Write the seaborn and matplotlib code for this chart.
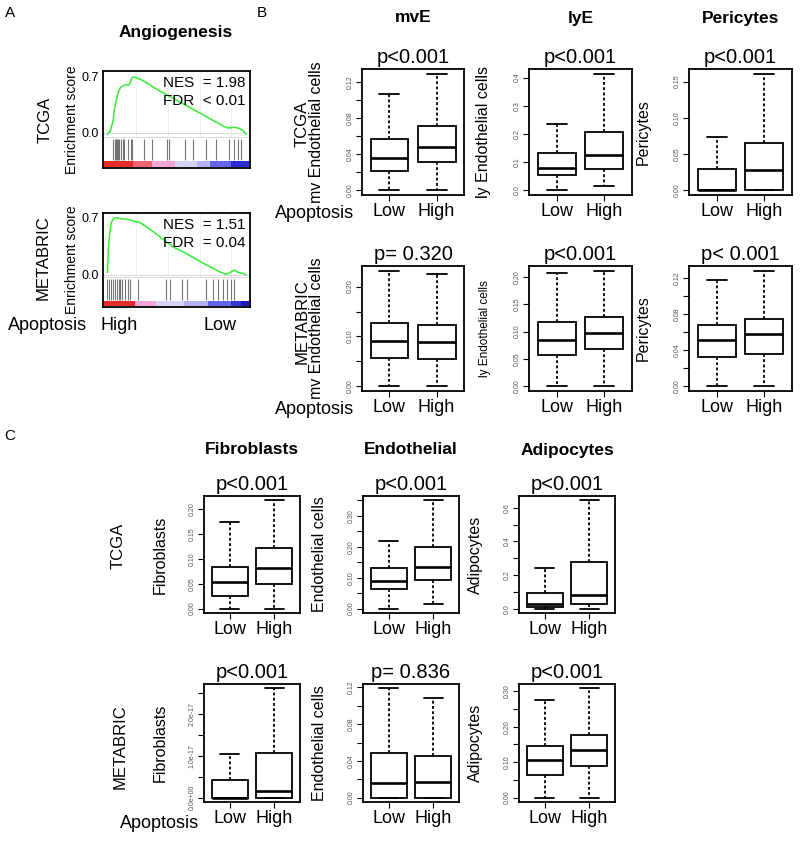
import numpy as np
import pandas as pd
import seaborn as sns
import matplotlib.pyplot as plt

W, H = 800, 841
groups = ["Low", "High"]

# ---- panel A: running enrichment score (rank fraction, ES) ----
tcga_rank = [0.02, 0.04, 0.06, 0.068, 0.08, 0.095, 0.105, 0.116, 0.13, 0.15, 0.17, 0.18, 0.19, 0.205,
             0.25, 0.30, 0.35, 0.40, 0.45, 0.50, 0.55, 0.60, 0.66, 0.72, 0.78, 0.83, 0.86, 0.90, 0.93, 0.96, 0.985]
tcga_es = [-0.02, 0.02, 0.15, 0.29, 0.40, 0.50, 0.55, 0.575, 0.59, 0.60, 0.60, 0.64, 0.69, 0.70,
           0.67, 0.62, 0.56, 0.51, 0.46, 0.41, 0.36, 0.31, 0.25, 0.19, 0.13, 0.08, 0.06, 0.07, 0.06, 0.03, -0.02]
tcga_hits = [0.06, 0.07, 0.077, 0.086, 0.093, 0.10, 0.116, 0.127, 0.138, 0.161, 0.184, 0.19,
             0.274, 0.33, 0.433, 0.45, 0.558, 0.614, 0.705, 0.773, 0.864, 0.898, 0.925, 0.945]
tcga_bar_edges = [0.0, 0.2, 0.33, 0.49, 0.64, 0.73, 0.88, 1.0]
tcga_bar_colors = ["#e62a2a", "#f06470", "#f2a6d6", "#d4d2f6", "#b4b2f2", "#6464e8", "#2a2ad2"]

meta_rank = [0.02, 0.027, 0.035, 0.048, 0.068, 0.09, 0.116, 0.15, 0.18, 0.25, 0.30, 0.37, 0.42, 0.48,
             0.55, 0.61, 0.68, 0.75, 0.80, 0.84, 0.86, 0.88, 0.90, 0.93, 0.96, 0.985]
meta_es = [0.03, 0.30, 0.50, 0.65, 0.70, 0.70, 0.69, 0.685, 0.675, 0.64, 0.58, 0.49, 0.42, 0.34,
           0.28, 0.22, 0.15, 0.085, 0.04, 0.01, 0.02, 0.04, 0.06, 0.03, 0.02, 0.0]
meta_hits = [0.015, 0.03, 0.045, 0.06, 0.07, 0.085, 0.10, 0.11, 0.125, 0.14, 0.16, 0.18,
             0.23, 0.43, 0.456, 0.535, 0.57, 0.705, 0.75, 0.785, 0.82, 0.85, 0.878, 0.898]
meta_bar_edges = [0.0, 0.21, 0.36, 0.55, 0.72, 0.88, 0.95, 1.0]
meta_bar_colors = ["#e62a2a", "#f2a6d6", "#d4d2f6", "#b4b2f2", "#6464e8", "#3434d6", "#1a1ac0"]

# ---- panels B and C: box summaries (lower whisker, Q1, median, Q3, upper whisker) ----
mve_tcga = {"Low": [0.0, 0.021, 0.036, 0.057, 0.107], "High": [0.0, 0.031, 0.048, 0.071, 0.129]}
lye_tcga = {"Low": [0.0, 0.053, 0.081, 0.133, 0.235], "High": [0.014, 0.074, 0.126, 0.207, 0.414]}
peri_tcga = {"Low": [0.0, 0.0, 0.0, 0.029, 0.073], "High": [0.0, 0.0, 0.0275, 0.065, 0.161]}
mve_meta = {"Low": [0.0, 0.056, 0.090, 0.128, 0.232], "High": [0.0, 0.055, 0.088, 0.124, 0.226]}
lye_meta = {"Low": [0.0, 0.057, 0.085, 0.118, 0.207], "High": [0.0, 0.068, 0.098, 0.127, 0.211]}
peri_meta = {"Low": [0.0, 0.033, 0.051, 0.0675, 0.118], "High": [0.0, 0.036, 0.058, 0.074, 0.128]}

fib_tcga = {"Low": [0.0, 0.026, 0.054, 0.084, 0.174], "High": [0.0, 0.05, 0.082, 0.122, 0.218]}
endo_tcga = {"Low": [0.0, 0.064, 0.088, 0.13, 0.218], "High": [0.015, 0.092, 0.136, 0.20, 0.35]}
adipo_tcga = {"Low": [0.0, 0.012, 0.03, 0.095, 0.24], "High": [0.0, 0.03, 0.08, 0.275, 0.645]}
fib_meta = {"Low": [0.0, 0.0, 0.0, 0.43e-17, 1.05e-17], "High": [0.0, 0.0, 0.17e-17, 1.07e-17, 2.62e-17]}
endo_meta = {"Low": [0.0, 0.0, 0.016, 0.0486, 0.119], "High": [0.0, 0.0, 0.0173, 0.0454, 0.109]}
adipo_meta = {"Low": [0.0, 0.064, 0.106, 0.146, 0.274], "High": [0.0, 0.089, 0.134, 0.176, 0.308]}

sns.set_style("white")
plt.rcParams["font.family"] = ["Liberation Sans", "DejaVu Sans"]
plt.rcParams["text.color"] = "black"
plt.rcParams["axes.labelcolor"] = "black"
plt.rcParams["xtick.color"] = "black"
plt.rcParams["ytick.color"] = "black"

fig = plt.figure(figsize=(W / 100, H / 100), dpi=100)


def add_ax(l, t, r, b):
    return fig.add_axes([l / W, 1 - b / H, (r - l) / W, (b - t) / H])


def put(x, y, s, **kw):
    kw.setdefault("ha", "center")
    kw.setdefault("va", "center")
    fig.text(x / W, 1 - y / H, s, **kw)


def frame(ax):
    for sp in ax.spines.values():
        sp.set_visible(True)
        sp.set_color("black")
        sp.set_linewidth(1.3)


def draw_gsea(ax, rank, es, hits, edges, colors, ylim, rug, bar, nes, fdr):
    sep = rug[1] + 0.02
    ax.vlines([0.22, 0.44, 0.66, 0.88], sep, ylim[1], color="#ececec", lw=0.6, zorder=0)
    ax.axhline(0, color="#d8d8d8", lw=0.7, zorder=0)
    ax.axhline(sep, color="#d8d8d8", lw=0.7, zorder=0)
    sns.lineplot(x=rank, y=es, ax=ax, color="#33ee33", linewidth=1.1, sort=False)
    ax.vlines(hits, rug[0], rug[1], color="#555555", linewidth=0.8, alpha=0.8)
    ax.barh(y=(bar[0] + bar[1]) / 2, width=np.diff(edges), left=edges[:-1],
            height=bar[1] - bar[0], color=colors, linewidth=0)
    ax.set_xlim(-0.01, 1.01)
    ax.set_ylim(*ylim)
    ax.set_xticks([])
    ax.set_yticks([0.0, 0.7])
    ax.set_yticklabels(["0.0", "0.7"], fontsize=9)
    ax.tick_params(axis="y", length=2, pad=1)
    ax.set_xlabel("")
    ax.set_ylabel("Enrichment score", fontsize=10, labelpad=2)
    frame(ax)
    ax.text(0.97, 0.95, nes, transform=ax.transAxes, ha="right", va="top", fontsize=11)
    ax.text(0.97, 0.76, fdr, transform=ax.transAxes, ha="right", va="top", fontsize=11)


def draw_box(ax, data, step, every, fmt, ylabel, ysize, pval, ylab_off):
    values = data["Low"] + data["High"]
    df = pd.DataFrame({"Apoptosis": np.repeat(groups, 5), "value": values})
    sns.boxplot(data=df, x="Apoptosis", y="value", order=groups, ax=ax, whis=np.inf, width=0.8,
                color="white", linecolor="black", linewidth=1.3, saturation=1,
                whiskerprops=dict(linestyle=(0, (1.6, 1.3))), medianprops=dict(linewidth=1.9),
                capwidths=0.42)
    lo, hi = min(values), max(values)
    pad = 0.04 * (hi - lo)
    ax.set_ylim(lo - pad, hi + pad)
    ax.set_xlim(-0.58, 1.58)
    ticks = np.arange(0, np.floor((hi + pad) / step + 1e-9) + 1) * step
    ax.set_yticks(ticks)
    ax.set_yticklabels([fmt.format(t) if i % every == 0 else "" for i, t in enumerate(ticks)],
                       rotation=90, va="center", fontsize=5, color="#555555")
    ax.tick_params(axis="y", left=True, length=4, width=0.8, pad=2)
    ax.tick_params(axis="x", bottom=True, length=4, width=0.8, pad=2, labelsize=13)
    ax.set_xlabel("")
    ax.set_ylabel(ylabel, fontsize=ysize)
    ax.yaxis.set_label_coords(-ylab_off / (ax.bbox.width), 0.5)
    frame(ax)
    ax.set_title(pval, fontsize=14.5, pad=4)


# ---------------- panel A ----------------
put(10, 13, "A", fontsize=11)
put(176, 32, "Angiogenesis", fontsize=12.5, fontweight="bold")
ax = add_ax(103, 71, 250, 168)
draw_gsea(ax, tcga_rank, tcga_es, tcga_hits, tcga_bar_edges, tcga_bar_colors,
          (-0.44, 0.775), (-0.34, -0.075), (-0.425, -0.35), "NES  = 1.98", "FDR  < 0.01")
ax = add_ax(103, 213, 250, 307)
draw_gsea(ax, meta_rank, meta_es, meta_hits, meta_bar_edges, meta_bar_colors,
          (-0.393, 0.761), (-0.307, -0.049), (-0.38, -0.32), "NES  = 1.51", "FDR  = 0.04")
put(45, 120, "TCGA", fontsize=12, rotation=90)
put(43, 258, "METABRIC", fontsize=12, rotation=90)
put(48, 325, "Apoptosis", fontsize=13)
put(119, 325, "High", fontsize=13)
put(220, 325, "Low", fontsize=13)

# ---------------- panel B ----------------
put(262, 13, "B", fontsize=11)
b_cols = [(362, 464), (529, 632), (689, 792)]
b_rows = [(69, 195), (266, 391)]
b_titles = ["mvE", "lyE", "Pericytes"]
b_panels = [
    [(mve_tcga, 0.02, 2, "{:.2f}", "mv Endothelial cells", 11.5, "p<0.001"),
     (lye_tcga, 0.1, 1, "{:.1f}", "ly Endothelial cells", 11.5, "p<0.001"),
     (peri_tcga, 0.05, 1, "{:.2f}", "Pericytes", 11.5, "p<0.001")],
    [(mve_meta, 0.05, 2, "{:.2f}", "mv Endothelial cells", 11.5, "p= 0.320"),
     (lye_meta, 0.05, 1, "{:.2f}", "ly Endothelial cells", 8.5, "p<0.001"),
     (peri_meta, 0.02, 2, "{:.2f}", "Pericytes", 11.5, "p< 0.001")],
]
for r, (t, b) in enumerate(b_rows):
    for c, (l, rr) in enumerate(b_cols):
        ax = add_ax(l, t, rr, b)
        draw_box(ax, *b_panels[r][c], ylab_off=38)
    put(315, b + 18, "Apoptosis", fontsize=13)
for c, (l, rr) in enumerate(b_cols):
    put((l + rr) / 2, 18, b_titles[c], fontsize=12.5, fontweight="bold")
put(302, 124, "TCGA", fontsize=12, rotation=90)
put(302, 322, "METABRIC", fontsize=12, rotation=90)

# ---------------- panel C ----------------
put(10, 436, "C", fontsize=11)
c_cols = [(204, 300), (363, 459), (519, 615)]
c_rows = [(496, 613), (684, 802)]
c_titles = ["Fibroblasts", "Endothelial", "Adipocytes"]
c_panels = [
    [(fib_tcga, 0.05, 1, "{:.2f}", "Fibroblasts", 11.5, "p<0.001"),
     (endo_tcga, 0.05, 2, "{:.2f}", "Endothelial cells", 11.5, "p<0.001"),
     (adipo_tcga, 0.1, 2, "{:.1f}", "Adipocytes", 11.5, "p<0.001")],
    [(fib_meta, 0.5e-17, 2, "{:.1e}", "Fibroblasts", 11.5, "p<0.001"),
     (endo_meta, 0.02, 2, "{:.2f}", "Endothelial cells", 11.5, "p= 0.836"),
     (adipo_meta, 0.05, 2, "{:.2f}", "Adipocytes", 11.5, "p<0.001")],
]
for r, (t, b) in enumerate(c_rows):
    for c, (l, rr) in enumerate(c_cols):
        ax = add_ax(l, t, rr, b)
        draw_box(ax, *c_panels[r][c], ylab_off=36)
for c, (l, rr) in enumerate(c_cols):
    put((l + rr) / 2, 450, c_titles[c], fontsize=12.5, fontweight="bold")
put(160, 823, "Apoptosis", fontsize=13)
put(118, 546, "TCGA", fontsize=12, rotation=90)
put(120, 747, "METABRIC", fontsize=12, rotation=90)

fig.savefig("out.png", dpi=100)
